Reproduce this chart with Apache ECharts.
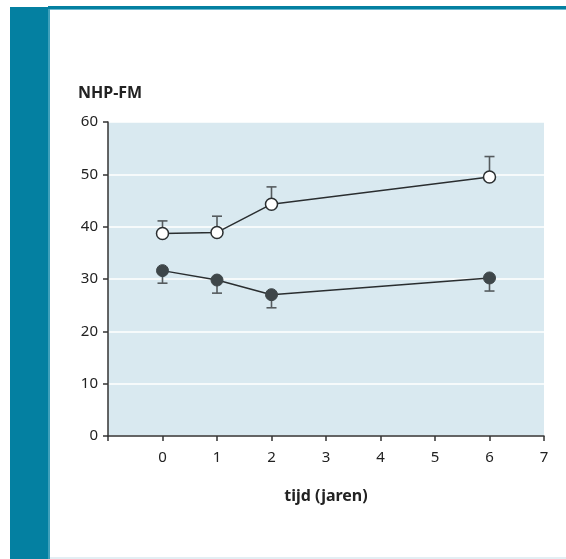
<!DOCTYPE html>
<html>
<head>
<meta charset="utf-8">
<script src="https://cdn.jsdelivr.net/npm/echarts@6/dist/echarts.min.js"></script>
<style>html,body{margin:0;padding:0;background:#fff}#c{width:566px;height:559px}</style>
</head>
<body>
<div id="c"></div>
<script>
var years = [0, 1, 2, 6];
var openMean = [38.7, 38.9, 44.3, 49.5];
var openUpper = [41.1, 42.0, 47.6, 53.4];
var filledMean = [31.6, 29.8, 27.0, 30.2];
var filledLower = [29.2, 27.3, 24.5, 27.7];
var xTicks = [-1, 0, 1, 2, 3, 4, 5, 6, 7];
var yTicks = [0, 10, 20, 30, 40, 50, 60];

var FONT = 'Noto Sans';
function pairs(xs, ys) { return xs.map(function (x, i) { return [x, ys[i]]; }); }
function errData(xs, a, b) { return xs.map(function (x, i) { return [x, a[i], b[i]]; }); }

function errRender(params, api) {
  var p1 = api.coord([api.value(0), api.value(1)]);
  var p2 = api.coord([api.value(0), api.value(2)]);
  var w = 5;
  var st = { stroke: '#555b5e', lineWidth: 1.6 };
  return {
    type: 'group',
    children: [
      { type: 'line', shape: { x1: p1[0], y1: p1[1], x2: p2[0], y2: p2[1] }, style: st },
      { type: 'line', shape: { x1: p2[0] - w, y1: p2[1], x2: p2[0] + w, y2: p2[1] }, style: st }
    ]
  };
}

var chart = echarts.init(document.getElementById('c'));
chart.setOption({
  animation: false,
  backgroundColor: '#ffffff',
  graphic: [
    { type: 'rect', shape: { x: 10, y: 7, width: 38, height: 552 }, style: { fill: '#0480a1' }, z: 0 },
    { type: 'rect', shape: { x: 48, y: 7, width: 2, height: 552 }, style: { fill: '#3fa0bb' }, z: 0 },
    { type: 'rect', shape: { x: 48, y: 6, width: 518, height: 3 }, style: { fill: '#0480a1' }, z: 0 },
    { type: 'rect', shape: { x: 50, y: 9, width: 516, height: 1 }, style: { fill: '#6fb8cf' }, z: 0 },
    { type: 'rect', shape: { x: 50, y: 557, width: 516, height: 2 }, style: { fill: '#e3eef3' }, z: 0 }
  ],
  title: {
    text: 'NHP-FM', left: 73, top: 80,
    textStyle: { fontFamily: FONT, fontSize: 16, fontWeight: 'bold', color: '#222' }
  },
  grid: {
    left: 108, right: 22, top: 122, bottom: 123,
    show: true, backgroundColor: '#d9e9f0', borderWidth: 0
  },
  xAxis: {
    type: 'value', min: xTicks[0], max: xTicks[xTicks.length - 1], interval: 1,
    name: 'tijd (jaren)', nameLocation: 'middle', nameGap: 52,
    nameTextStyle: { fontFamily: FONT, fontSize: 16, fontWeight: 'bold', color: '#222' },
    axisLine: { show: true, onZero: false, lineStyle: { color: '#333', width: 1.5 } },
    axisTick: { show: true, length: 5, lineStyle: { color: '#333', width: 1.5 } },
    axisLabel: {
      margin: 14, fontFamily: FONT, fontSize: 15, color: '#222',
      formatter: function (v) { return v < 0 ? '' : String(v); }
    },
    splitLine: { show: false }
  },
  yAxis: {
    type: 'value', min: yTicks[0], max: yTicks[yTicks.length - 1], interval: 10,
    axisLine: { show: true, onZero: false, lineStyle: { color: '#333', width: 1.5 } },
    axisTick: { show: true, length: 5, lineStyle: { color: '#333', width: 1.5 } },
    axisLabel: { margin: 10, fontFamily: FONT, fontSize: 15, color: '#222' },
    splitLine: { show: true, lineStyle: { color: '#ffffff', width: 1.5 } }
  },
  series: [
    { type: 'custom', renderItem: errRender, data: errData(years, openMean, openUpper), z: 2, silent: true },
    { type: 'custom', renderItem: errRender, data: errData(years, filledMean, filledLower), z: 2, silent: true },
    {
      type: 'line', data: pairs(years, openMean), z: 3,
      symbol: 'circle', symbolSize: 12,
      lineStyle: { color: '#2a2e30', width: 1.5 },
      itemStyle: { color: '#ffffff', borderColor: '#2a2e30', borderWidth: 1.5 }
    },
    {
      type: 'line', data: pairs(years, filledMean), z: 3,
      symbol: 'circle', symbolSize: 12,
      lineStyle: { color: '#2a2e30', width: 1.5 },
      itemStyle: { color: '#3e4649', borderColor: '#3e4649', borderWidth: 1 }
    }
  ]
});
</script>
</body>
</html>
